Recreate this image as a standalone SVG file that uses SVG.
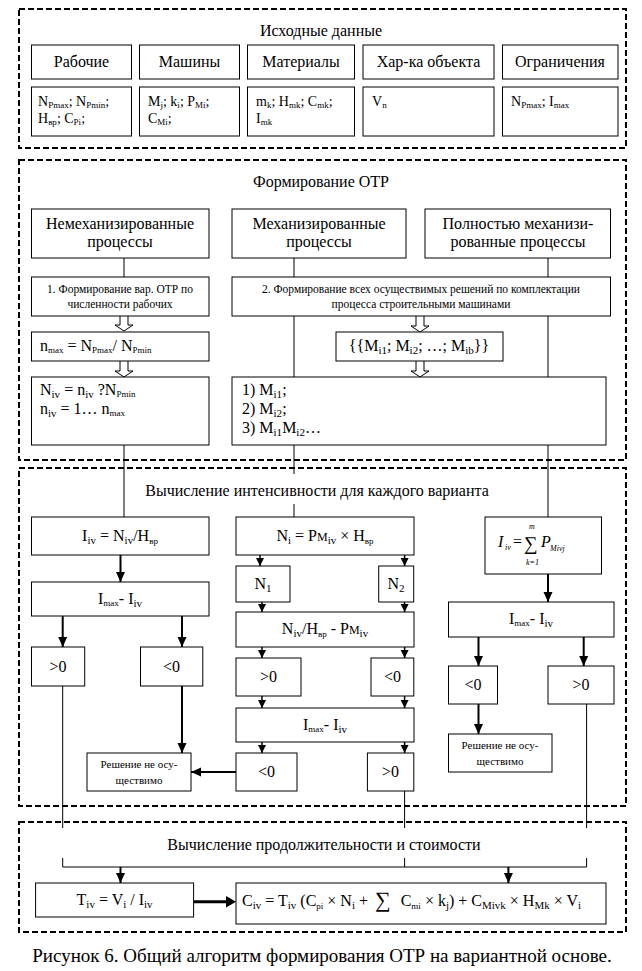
<svg xmlns="http://www.w3.org/2000/svg" width="642" height="971" viewBox="0 0 642 971">
<style>
text{font-family:"Liberation Serif","Times New Roman",serif;fill:#000}
.t{font-size:16px}
.c{text-anchor:middle}
.r2{font-size:14px}
.s{font-size:11.5px}
.xs{font-size:11px}
.sb{font-size:9px}
.sm{font-size:11px}
.dash{fill:none;stroke:#000;stroke-width:2;stroke-dasharray:6 3}
.box{fill:#fff;stroke:#000;stroke-width:1}
.ln{fill:none;stroke:#000;stroke-width:1}
.ar{fill:none;stroke:#000;stroke-width:2;marker-end:url(#ah)}
.ar2{fill:none;stroke:#000;stroke-width:1.5;marker-end:url(#ah2)}
.blk{fill:#fff;stroke:#000;stroke-width:1}
.it{font-style:italic}
</style>
<defs>
<marker id="ah" markerUnits="userSpaceOnUse" markerWidth="10" markerHeight="10" refX="10" refY="5" orient="auto"><path d="M0,0.5 L10,5 L0,9.5 z" fill="#000"/></marker>
<marker id="ah2" markerUnits="userSpaceOnUse" markerWidth="8" markerHeight="9" refX="8" refY="4.5" orient="auto"><path d="M0,0.5 L8,4.5 L0,8.5 z" fill="#000"/></marker>
</defs>
<rect width="642" height="971" fill="#fff"/>

<!-- section frames -->
<g id="frames">
<rect class="dash" x="19" y="9" width="607" height="139"/>
<rect class="dash" x="19" y="160" width="607" height="300"/>
<rect class="dash" x="19" y="468" width="607" height="338"/>
<rect class="dash" x="19" y="822" width="607" height="110"/>
</g>

<!-- connectors -->
<g id="connectors">
<path class="ln" d="M124,258 V277 M294,258 V277 M548,258 V277"/>
<path class="ln" d="M294,316 V377 M548,316 V377"/>
<path class="ln" d="M124,445 V517 M294,445 V474 M294,504 V517 M548,445 V517"/>
<path class="blk" d="M120,316 V325 H115 L124,331 L133,325 H128 V316"/>
<path class="blk" d="M120,361 V371 H115 L124,377 L133,371 H128 V361"/>
<path class="blk" d="M416,316 V326 H411 L420,332 L429,326 H424 V316"/>
<path class="blk" d="M416,361 V371 H411 L420,377 L429,371 H424 V361"/>
<line class="ar" x1="120.5" y1="555" x2="120.5" y2="582"/>
<line class="ar" x1="62.7" y1="616" x2="62.7" y2="647"/>
<line class="ar" x1="182" y1="616" x2="182" y2="647"/>
<line class="ar" x1="182" y1="686" x2="182" y2="753"/>
<line class="ar" x1="236" y1="772" x2="191" y2="772"/>
<line class="ar2" x1="260" y1="555" x2="260" y2="566"/>
<line class="ar2" x1="404.6" y1="555" x2="404.6" y2="566"/>
<line class="ar2" x1="262" y1="602" x2="262" y2="612"/>
<line class="ar2" x1="404.6" y1="602" x2="404.6" y2="612"/>
<line class="ar2" x1="262" y1="647" x2="262" y2="658"/>
<line class="ar2" x1="404.6" y1="647" x2="404.6" y2="658"/>
<line class="ar2" x1="262" y1="696" x2="262" y2="708"/>
<line class="ar2" x1="404.6" y1="696" x2="404.6" y2="708"/>
<line class="ar2" x1="262" y1="742" x2="262" y2="753"/>
<line class="ar2" x1="404.6" y1="742" x2="404.6" y2="753"/>
<line class="ar" x1="548" y1="574" x2="548" y2="602"/>
<line class="ar" x1="478.5" y1="637" x2="478.5" y2="666"/>
<line class="ar" x1="583.7" y1="637" x2="583.7" y2="666"/>
<line class="ar" x1="478.5" y1="704" x2="478.5" y2="734"/>
<path class="ln" d="M62.7,686 V828 M404.6,791 V828 M586.6,704 V828"/>
<path class="ln" d="M62.7,858 V867 H586.6 V858 M404.6,858 V867"/>
<line class="ar" x1="120.5" y1="867" x2="120.5" y2="883"/>
<line class="ar" x1="508.4" y1="867" x2="508.4" y2="883"/>
<line fill="none" stroke="#000" stroke-width="3" x1="193.6" y1="901.7" x2="228" y2="901.7"/>
<path d="M226,896 L236,901.7 L226,907.4 z" fill="#000"/>
</g>

<!-- Section 1 -->
<g id="s1-title"><text class="t c" x="321" y="36">Исходные данные</text></g>
<g id="n-rabochie"><rect class="box" x="31.5" y="45" width="100" height="34"/><text class="t c" x="81.5" y="67">Рабочие</text></g>
<g id="n-mashiny"><rect class="box" x="139.5" y="45" width="100" height="34"/><text class="t c" x="189.5" y="67">Машины</text></g>
<g id="n-materialy"><rect class="box" x="247.5" y="45" width="107" height="34"/><text class="t c" x="301" y="67">Материалы</text></g>
<g id="n-harka"><rect class="box" x="363" y="45" width="131" height="34"/><text class="t c" x="428.5" y="67">Хар-ка объекта</text></g>
<g id="n-ogr"><rect class="box" x="502.5" y="45" width="115.5" height="34"/><text class="t c" x="560" y="67">Ограничения</text></g>

<g id="n-rabochie-d"><rect class="box" x="31.5" y="87" width="100" height="49"/>
<text class="r2" x="38" y="106">N<tspan class="sb" dy="2">Pmax</tspan><tspan dy="-2">; N</tspan><tspan class="sb" dy="2">Pmin</tspan><tspan dy="-2">;</tspan></text>
<text class="r2" x="38" y="123">H<tspan class="sb" dy="2">вр</tspan><tspan dy="-2">; C</tspan><tspan class="sb" dy="2">Pi</tspan><tspan dy="-2">;</tspan></text></g>
<g id="n-mashiny-d"><rect class="box" x="139.5" y="87" width="100" height="49"/>
<text class="r2" x="148" y="106">M<tspan class="sb" dy="2">j</tspan><tspan dy="-2">; k</tspan><tspan class="sb" dy="2">i</tspan><tspan dy="-2">; P</tspan><tspan class="sb" dy="2">Mi</tspan><tspan dy="-2">;</tspan></text>
<text class="r2" x="148" y="123">C<tspan class="sb" dy="2">Mi</tspan><tspan dy="-2">;</tspan></text></g>
<g id="n-materialy-d"><rect class="box" x="247.5" y="87" width="107" height="49"/>
<text class="r2" x="256" y="106">m<tspan class="sb" dy="2">k</tspan><tspan dy="-2">; H</tspan><tspan class="sb" dy="2">mk</tspan><tspan dy="-2">; C</tspan><tspan class="sb" dy="2">mk</tspan><tspan dy="-2">;</tspan></text>
<text class="r2" x="256" y="123">I<tspan class="sb" dy="2">mk</tspan></text></g>
<g id="n-harka-d"><rect class="box" x="363" y="87" width="131" height="49"/>
<text class="r2" x="372" y="106">V<tspan class="sb" dy="2">n</tspan></text></g>
<g id="n-ogr-d"><rect class="box" x="502.5" y="87" width="115.5" height="49"/>
<text class="r2" x="511" y="106">N<tspan class="sb" dy="2">Pmax</tspan><tspan dy="-2">; I</tspan><tspan class="sb" dy="2">max</tspan></text></g>

<!-- Section 2 -->
<g id="s2-title"><text class="t c" x="321" y="187">Формирование ОТР</text></g>
<g id="n-nemeh"><rect class="box" x="31.5" y="209" width="177.5" height="49"/><text class="t c" x="120" y="229">Немеханизированные</text><text class="t c" x="120" y="247">процессы</text></g>
<g id="n-meh"><rect class="box" x="232" y="209" width="174" height="49"/><text class="t c" x="319" y="229">Механизированные</text><text class="t c" x="319" y="247">процессы</text></g>
<g id="n-polno"><rect class="box" x="425" y="209" width="185.5" height="49"/><text class="t c" x="518" y="229">Полностью механизи-</text><text class="t c" x="518" y="247">рованные процессы</text></g>
<g id="n-form1"><rect class="box" x="31.5" y="277" width="177.5" height="39"/><text class="s c" x="120" y="293">1. Формирование вар. ОТР по</text><text class="s c" x="120" y="308">численности рабочих</text></g>
<g id="n-form2"><rect class="box" x="232" y="277" width="378.5" height="39"/><text class="s c" x="421" y="293">2. Формирование всех осуществимых решений по комплектации</text><text class="s c" x="421" y="308">процесса строительными машинами</text></g>
<g id="n-nmax"><rect class="box" x="31.5" y="332" width="177.5" height="29"/>
<text class="t" x="40" y="351">n<tspan class="sb" dy="2">max</tspan><tspan dy="-2"> = N</tspan><tspan class="sb" dy="2">Pmax</tspan><tspan dy="-2">/ N</tspan><tspan class="sb" dy="2">Pmin</tspan></text></g>
<g id="n-mset"><rect class="box" x="336" y="332" width="167" height="29"/>
<text class="t c" x="419" y="351">{{M<tspan class="sm" dy="3">i1</tspan><tspan dy="-3">; M</tspan><tspan class="sm" dy="3">i2</tspan><tspan dy="-3">; …; M</tspan><tspan class="sm" dy="3">ib</tspan><tspan dy="-3">}}</tspan></text></g>
<g id="n-niv"><rect class="box" x="31.5" y="377" width="177.5" height="68"/>
<text class="t" x="40" y="395">N<tspan class="sm" dy="3">iv</tspan><tspan dy="-3"> = n</tspan><tspan class="sm" dy="3">iv</tspan><tspan dy="-3"> ?N</tspan><tspan class="sb" dy="2">Pmin</tspan></text>
<text class="t" x="40" y="414">n<tspan class="sm" dy="3">iv</tspan><tspan dy="-3"> = 1… n</tspan><tspan class="sb" dy="2">max</tspan></text></g>
<g id="n-mlist"><rect class="box" x="232" y="377" width="374" height="68"/>
<text class="t" x="242" y="395">1) M<tspan class="sm" dy="3">i1</tspan><tspan dy="-3">;</tspan></text>
<text class="t" x="242" y="414">2) M<tspan class="sm" dy="3">i2</tspan><tspan dy="-3">;</tspan></text>
<text class="t" x="242" y="433">3) M<tspan class="sm" dy="3">i1</tspan><tspan dy="-3">M</tspan><tspan class="sm" dy="3">i2</tspan><tspan dy="-3">…</tspan></text></g>

<!-- Section 3 -->
<g id="s3-title"><text class="t c" x="317" y="496">Вычисление интенсивности для каждого варианта</text></g>
<g id="n-iiv"><rect class="box" x="31.5" y="517" width="177.5" height="38"/>
<text class="t c" x="120" y="541">I<tspan class="sm" dy="3">iv</tspan><tspan dy="-3"> = N</tspan><tspan class="sm" dy="3">iv</tspan><tspan dy="-3">/H</tspan><tspan class="sb" dy="3">вр</tspan></text></g>
<g id="n-ni"><rect class="box" x="236" y="517" width="178" height="38"/>
<text class="t c" x="325" y="541">N<tspan class="sm" dy="3">i</tspan><tspan dy="-3"> = P</tspan><tspan font-size="12">М</tspan><tspan class="sm" dy="3">iv</tspan><tspan dy="-3"> × H</tspan><tspan class="sb" dy="3">вр</tspan></text></g>
<g id="n-sum"><rect class="box" x="485" y="517" width="116.5" height="57"/>
<text class="t it" x="498" y="547">I</text><text class="it" font-size="8" x="505" y="550">iv</text>
<text class="t" x="513" y="547">=</text>
<text font-size="19" x="524" y="550">∑</text>
<text class="it" font-size="8" x="529" y="529">m</text>
<text class="it" font-size="8" x="526" y="565">k=1</text>
<text class="t it" x="541" y="547">P</text><text class="it" font-size="8" x="550" y="551">Mivj</text></g>
<g id="n-imax1"><rect class="box" x="31.5" y="582" width="177.5" height="34"/>
<text class="t c" x="120" y="604">I<tspan class="sb" dy="2">max</tspan><tspan dy="-2">- I</tspan><tspan class="sm" dy="3">iv</tspan></text></g>
<g id="n-n1"><rect class="box" x="236" y="566" width="54" height="36"/><text class="t c" x="263" y="589">N<tspan class="sm" dy="3">1</tspan></text></g>
<g id="n-n2"><rect class="box" x="378.7" y="566" width="35" height="36"/><text class="t c" x="396" y="589">N<tspan class="sm" dy="3">2</tspan></text></g>
<g id="n-nivh"><rect class="box" x="236" y="612" width="178" height="35"/>
<text class="t c" x="325" y="634">N<tspan class="sm" dy="3">iv</tspan><tspan dy="-3">/H</tspan><tspan class="sb" dy="3">вр</tspan><tspan dy="-3"> - P</tspan><tspan font-size="12">М</tspan><tspan class="sm" dy="3">iv</tspan></text></g>
<g id="n-imax3"><rect class="box" x="448.5" y="602" width="165.5" height="35"/>
<text class="t c" x="531" y="624">I<tspan class="sb" dy="2">max</tspan><tspan dy="-2">- I</tspan><tspan class="sm" dy="3">iv</tspan></text></g>
<g id="n-gt1"><rect class="box" x="31.5" y="647" width="53.2" height="39"/><text class="t c" x="58" y="672">&gt;0</text></g>
<g id="n-lt1"><rect class="box" x="140.5" y="647" width="62.3" height="39"/><text class="t c" x="171.6" y="672">&lt;0</text></g>
<g id="n-gt2"><rect class="box" x="236" y="658" width="65" height="38"/><text class="t c" x="268.5" y="682">&gt;0</text></g>
<g id="n-lt2"><rect class="box" x="371" y="658" width="42.8" height="38"/><text class="t c" x="392.4" y="682">&lt;0</text></g>
<g id="n-imax2"><rect class="box" x="236" y="708" width="178" height="34"/>
<text class="t c" x="325" y="730">I<tspan class="sb" dy="2">max</tspan><tspan dy="-2">- I</tspan><tspan class="sm" dy="3">iv</tspan></text></g>
<g id="n-lt3"><rect class="box" x="236" y="753" width="61" height="38"/><text class="t c" x="266.5" y="777">&lt;0</text></g>
<g id="n-gt3"><rect class="box" x="367.4" y="753" width="46.4" height="38"/><text class="t c" x="390.6" y="777">&gt;0</text></g>
<g id="n-nores1"><rect class="box" x="87" y="753" width="104" height="38"/><text class="xs c" x="139" y="768">Решение не осу-</text><text class="xs c" x="139" y="784">ществимо</text></g>
<g id="n-lt4"><rect class="box" x="448.5" y="666" width="49" height="38"/><text class="t c" x="473" y="690">&lt;0</text></g>
<g id="n-gt4"><rect class="box" x="548" y="666" width="66" height="38"/><text class="t c" x="581" y="690">&gt;0</text></g>
<g id="n-nores2"><rect class="box" x="448.5" y="734" width="103.5" height="38"/><text class="xs c" x="500" y="749">Решение не осу-</text><text class="xs c" x="500" y="765">ществимо</text></g>

<!-- Section 4 -->
<g id="s4-title"><text class="t c" x="324" y="850">Вычисление продолжительности и стоимости</text></g>
<g id="n-tiv"><rect class="box" x="35.6" y="883" width="158" height="34"/>
<text class="t c" x="114.6" y="905">T<tspan class="sm" dy="3">iv</tspan><tspan dy="-3"> = V</tspan><tspan class="sm" dy="3">i</tspan><tspan dy="-3"> / I</tspan><tspan class="sm" dy="3">iv</tspan></text></g>
<g id="n-civ"><rect class="box" x="236" y="883" width="370" height="41"/>
<text class="t" x="242" y="906">C<tspan class="sm" dy="3">iv</tspan><tspan dy="-3"> = T</tspan><tspan class="sm" dy="3">iv</tspan><tspan dy="-3"> (C</tspan><tspan class="sb" dy="3">pi</tspan><tspan dy="-3"> × N</tspan><tspan class="sm" dy="3">i</tspan><tspan dy="-3"> + </tspan><tspan font-size="22" dy="1" dx="3">∑</tspan><tspan dy="-1" dx="6"> C</tspan><tspan class="sb" dy="3">mi</tspan><tspan dy="-3"> × k</tspan><tspan class="sm" dy="3">j</tspan><tspan dy="-3">) + C</tspan><tspan class="sm" dy="3">Mivk</tspan><tspan dy="-3"> × H</tspan><tspan class="sm" dy="3">Mk</tspan><tspan dy="-3"> × V</tspan><tspan class="sm" dy="3">i</tspan></text></g>

<g id="caption"><text class="c" font-size="19" x="322" y="962">Рисунок 6. Общий алгоритм формирования ОТР на вариантной основе.</text></g>
</svg>
